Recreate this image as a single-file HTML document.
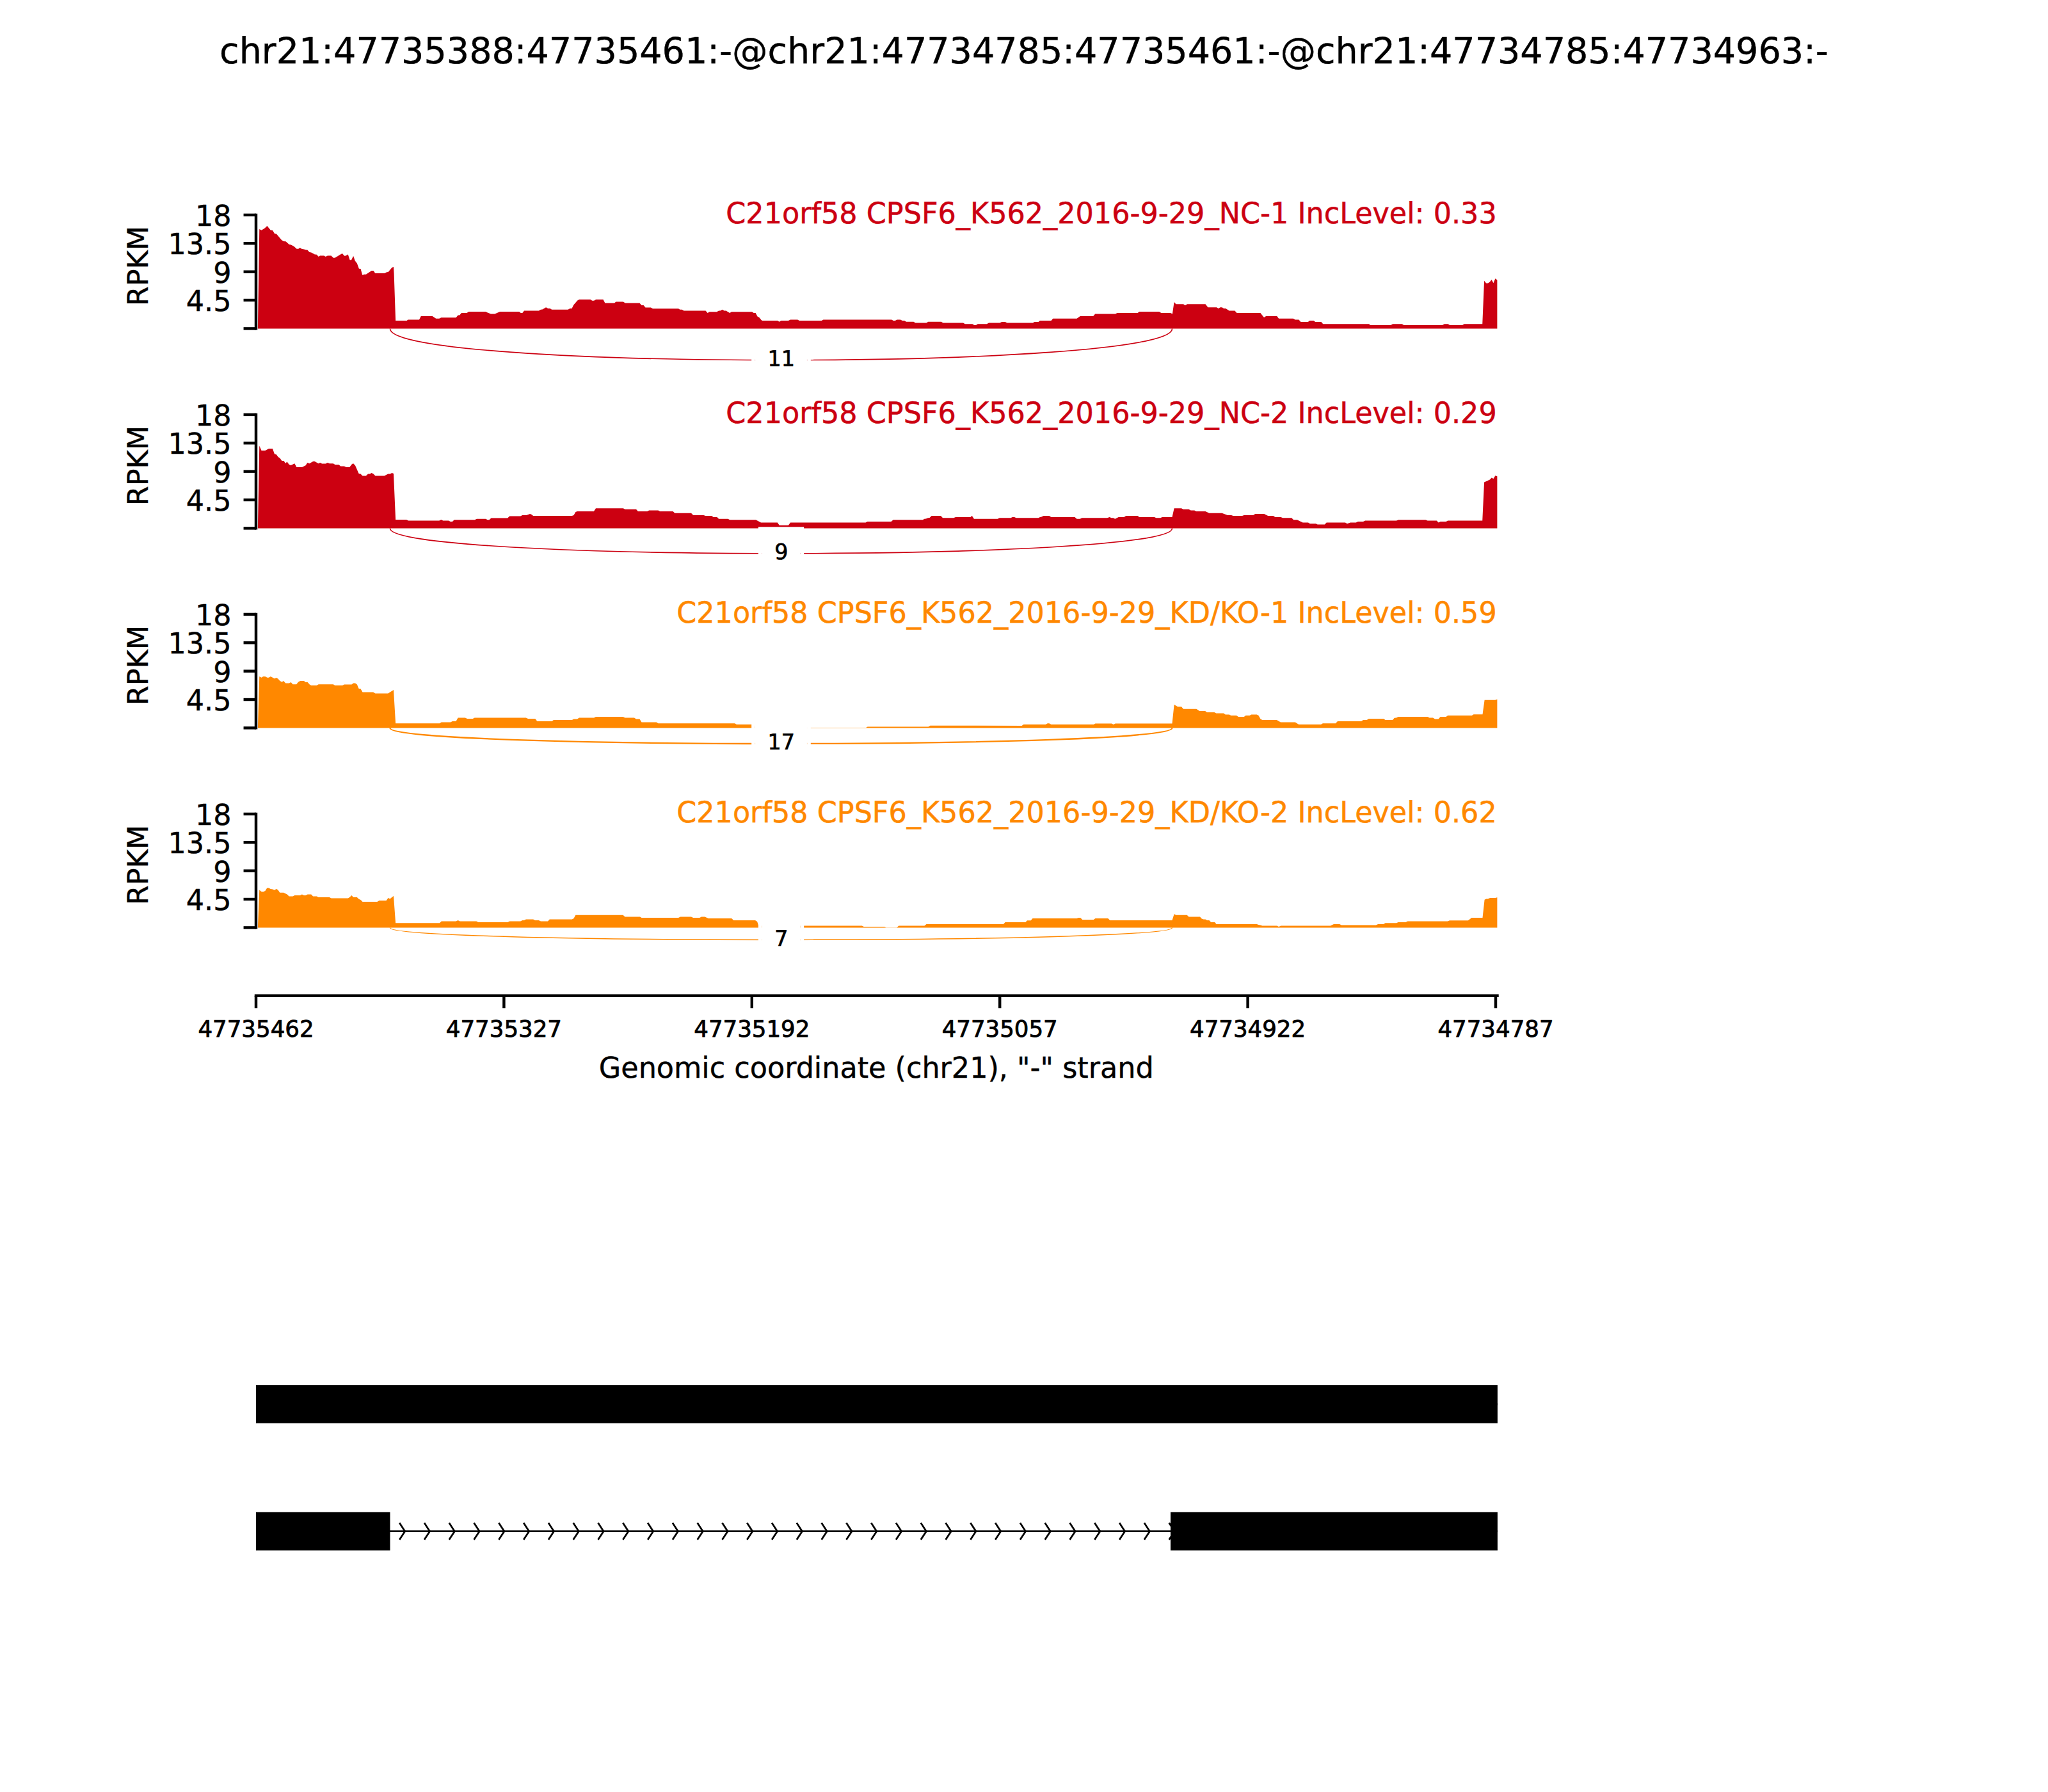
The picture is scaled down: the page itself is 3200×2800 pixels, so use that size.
<!DOCTYPE html>
<html lang="en"><head><meta charset="utf-8"><title>Sashimi plot</title>
<style>html,body{margin:0;padding:0;background:#fff}body{width:3200px;height:2800px;overflow:hidden}svg{display:block}text{font-family:"DejaVu Sans","Liberation Sans",sans-serif;fill:#000;text-rendering:geometricPrecision}</style>
</head><body>
<svg width="3200" height="2800" viewBox="0 0 3200 2800" role="img" aria-label="Sashimi plot">
<rect width="3200" height="2800" fill="#fff"/>
<text transform="translate(1600 99) scale(1 1.015)" font-size="55.56" text-anchor="middle" stroke="#000" stroke-width="0.4">chr21:47735388:47735461:-@chr21:47734785:47735461:-@chr21:47734785:47734963:-</text>
<g>
<path id="cov0" d="M402.88 513.50 L405.25 358.12 L408.50 359.75 L413.75 356.62 L417.38 352.88 L422.75 359.38 L426.00 360.00 L429.00 365.00 L431.88 365.38 L440.00 375.00 L443.12 376.88 L446.50 377.25 L451.88 382.12 L454.75 382.50 L459.38 385.00 L463.50 388.75 L466.25 388.75 L468.75 387.25 L471.25 388.75 L475.00 389.38 L478.12 390.62 L480.25 390.62 L483.50 394.00 L486.25 394.38 L491.88 397.50 L494.75 397.75 L497.75 400.88 L500.00 399.38 L506.25 399.38 L508.75 401.00 L511.88 399.38 L517.50 399.38 L520.62 402.75 L523.50 402.75 L532.50 397.25 L534.75 396.00 L538.12 399.75 L540.62 399.38 L543.75 397.50 L546.62 406.25 L549.00 406.25 L552.12 400.00 L554.75 407.50 L557.88 411.62 L560.88 419.75 L563.50 420.00 L566.25 429.75 L569.38 428.75 L571.88 428.75 L580.62 423.12 L583.50 423.12 L586.25 426.88 L600.62 426.88 L604.38 425.25 L606.62 425.00 L612.50 418.12 L615.00 416.88 L615.62 427.50 L618.12 501.00 L618.12 500.88 L635.62 500.88 L637.50 499.62 L655.00 499.62 L657.75 494.12 L675.62 494.12 L681.25 497.75 L686.25 497.75 L689.38 496.25 L712.50 496.25 L715.62 492.50 L718.12 492.50 L721.00 489.12 L729.38 489.12 L732.50 487.12 L758.75 487.12 L766.88 490.62 L773.12 490.62 L781.25 487.12 L811.25 487.12 L813.75 489.00 L816.25 489.00 L819.00 485.62 L841.88 485.62 L845.00 483.75 L847.50 483.50 L853.12 480.25 L856.25 482.12 L859.38 482.12 L862.25 483.75 L887.50 483.75 L890.62 482.12 L893.50 481.88 L896.25 476.62 L902.25 469.38 L905.00 468.12 L922.50 468.12 L925.25 469.75 L928.12 469.75 L931.25 468.12 L942.50 468.12 L945.38 473.38 L960.00 473.38 L962.50 471.62 L973.75 471.62 L976.88 473.38 L999.38 473.38 L1002.50 476.88 L1005.62 476.88 L1008.50 480.38 L1016.88 480.38 L1020.00 482.25 L1060.00 482.25 L1062.50 483.75 L1065.62 483.75 L1068.50 485.62 L1096.00 485.62 L1102.50 485.62 L1105.62 489.00 L1108.75 487.25 L1120.00 487.25 L1123.12 485.62 L1125.62 485.38 L1128.50 483.75 L1131.50 485.38 L1134.38 485.62 L1140.25 489.00 L1143.12 487.25 L1175.00 487.25 L1177.75 489.00 L1180.62 489.00 L1183.50 494.38 L1186.25 496.00 L1189.75 500.25 L1191.25 500.88 L1215.00 500.88 L1217.50 502.75 L1220.62 501.00 L1231.88 501.00 L1235.00 499.38 L1246.25 499.38 L1249.00 501.00 L1283.75 501.00 L1286.50 499.38 L1336.00 499.38 L1393.12 499.38 L1395.88 501.00 L1398.75 501.00 L1401.50 499.38 L1406.88 499.38 L1410.00 501.00 L1413.12 501.00 L1416.00 502.75 L1427.50 502.75 L1430.25 504.62 L1447.50 504.62 L1450.38 502.75 L1470.62 502.75 L1473.50 504.62 L1505.00 504.62 L1507.88 506.25 L1519.38 506.25 L1522.25 508.12 L1525.00 508.12 L1527.75 506.25 L1541.88 506.25 L1545.00 504.62 L1562.25 504.62 L1565.25 502.88 L1570.62 502.88 L1573.50 504.62 L1573.50 504.62 L1613.75 504.62 L1616.50 502.88 L1622.50 502.88 L1625.00 501.00 L1642.50 501.00 L1645.25 497.75 L1682.50 497.75 L1687.75 494.12 L1708.12 494.12 L1711.25 490.62 L1742.75 490.62 L1745.62 489.00 L1777.50 489.00 L1780.25 487.12 L1811.25 487.12 L1814.38 489.00 L1814.75 489.00 L1829.00 489.00 L1831.88 490.62 L1834.62 471.88 L1837.50 475.25 L1849.00 475.25 L1851.88 476.88 L1855.00 475.25 L1883.50 475.25 L1887.50 480.25 L1901.00 480.25 L1903.75 482.12 L1906.62 480.25 L1909.38 480.25 L1912.25 482.12 L1915.25 482.12 L1920.62 485.62 L1929.38 485.62 L1932.50 489.00 L1969.38 489.00 L1975.00 496.00 L1978.12 494.12 L1995.25 494.12 L1998.12 497.75 L2020.62 497.75 L2023.75 499.38 L2029.38 499.38 L2032.50 502.88 L2043.75 502.88 L2046.50 501.00 L2052.50 501.00 L2055.25 502.88 L2064.38 502.88 L2067.25 506.25 L2138.75 506.25 L2141.50 508.12 L2173.12 508.12 L2176.25 506.25 L2190.62 506.25 L2193.50 508.12 L2253.75 508.12 L2256.88 506.25 L2262.50 506.25 L2265.25 508.12 L2285.00 508.00 L2287.81 506.25 L2316.25 506.25 L2319.06 438.75 L2322.19 442.38 L2325.00 442.38 L2327.81 440.62 L2330.62 437.00 L2333.44 442.19 L2336.38 435.31 L2339.38 437.38 L2339.38 513.44 Z" fill="#CC0011"/>
<path id="arc0" d="M609.40 513.40 C609.40 579.13 1831.60 579.13 1831.60 513.40" fill="none" stroke="#CC0011" stroke-width="1.60"/>
<rect x="1174.20" y="521.20" width="92.60" height="83.00" fill="#fff"/>
<clipPath id="seam0"><rect x="1179.41" y="526.76" width="0.70" height="71.88"/><rect x="1260.89" y="526.76" width="0.70" height="71.88"/></clipPath>
<g clip-path="url(#seam0)" opacity="0.35"><use href="#cov0"/><use href="#arc0"/></g>
<text transform="translate(1220.80 572.00) scale(1 1.02)" font-size="33.33" text-anchor="middle" stroke="#000" stroke-width="0.7">11</text>
<path d="M400.00 335.90 V513.40" stroke="#000" stroke-width="4.44" stroke-linecap="square" fill="none"/>
<path d="M380.56 335.90 H400.00" stroke="#000" stroke-width="4.44" fill="none"/>
<text transform="translate(361.50 353.00) scale(1 1.02)" font-size="44.48" text-anchor="end" stroke="#000" stroke-width="0.4">18</text>
<path d="M380.56 380.27 H400.00" stroke="#000" stroke-width="4.44" fill="none"/>
<text transform="translate(361.50 397.00) scale(1 1.02)" font-size="44.48" text-anchor="end" stroke="#000" stroke-width="0.4">13.5</text>
<path d="M380.56 424.65 H400.00" stroke="#000" stroke-width="4.44" fill="none"/>
<text transform="translate(361.50 442.00) scale(1 1.02)" font-size="44.48" text-anchor="end" stroke="#000" stroke-width="0.4">9</text>
<path d="M380.56 469.02 H400.00" stroke="#000" stroke-width="4.44" fill="none"/>
<text transform="translate(361.50 486.00) scale(1 1.02)" font-size="44.48" text-anchor="end" stroke="#000" stroke-width="0.4">4.5</text>
<path d="M380.56 513.40 H400.00" stroke="#000" stroke-width="4.44" fill="none"/>
<text transform="translate(230.80 415.55) rotate(-90)" font-size="44.44" text-anchor="middle" stroke="#000" stroke-width="0.4">RPKM</text>
<text transform="translate(2338.70 349.00) scale(1 1.03)" font-size="44.48" text-anchor="end" style="fill:#CC0011;stroke:#CC0011;stroke-width:0.5px">C21orf58 CPSF6_K562_2016-9-29_NC-1 IncLevel: 0.33</text>
</g>
<g>
<path id="cov1" d="M402.88 825.50 L405.25 696.38 L408.50 703.88 L414.38 703.88 L420.00 701.12 L425.88 701.12 L429.00 709.50 L431.62 709.88 L434.62 713.88 L437.50 716.00 L440.38 719.88 L443.50 720.12 L446.00 723.88 L448.50 721.38 L451.62 725.75 L454.38 727.00 L460.38 724.25 L463.38 730.12 L471.88 730.12 L477.50 727.25 L480.38 722.88 L483.38 724.25 L489.12 721.12 L491.88 721.12 L497.50 724.25 L500.25 723.00 L503.12 724.50 L508.75 724.50 L511.88 723.00 L515.00 724.25 L520.62 724.25 L523.50 726.00 L529.38 726.00 L532.25 728.50 L537.88 728.50 L541.00 730.12 L546.25 730.12 L549.38 725.75 L551.88 724.12 L555.00 727.25 L560.62 740.12 L563.50 740.38 L566.50 743.50 L571.88 743.50 L575.00 740.50 L577.88 740.38 L580.62 738.88 L583.50 740.38 L586.50 743.50 L600.62 743.50 L606.25 740.50 L609.38 740.38 L612.50 738.88 L615.00 740.12 L618.12 811.75 L618.12 812.00 L635.00 812.00 L638.12 813.50 L686.25 813.50 L689.38 812.00 L692.25 813.50 L701.00 813.50 L703.75 815.12 L706.88 815.12 L709.75 812.25 L741.88 812.25 L745.00 810.75 L758.75 810.75 L761.88 812.25 L764.38 812.25 L767.50 809.50 L793.12 809.50 L796.25 806.38 L813.12 806.38 L816.25 804.88 L822.50 804.88 L828.12 803.00 L830.62 803.88 L833.12 806.12 L856.00 806.12 L893.75 806.12 L896.50 804.88 L899.38 800.12 L901.88 798.88 L927.88 798.88 L931.00 794.25 L973.75 794.25 L976.50 795.75 L994.00 795.75 L996.88 798.88 L1011.25 798.88 L1014.12 797.38 L1028.50 797.38 L1031.25 798.88 L1051.50 798.88 L1054.38 801.75 L1080.00 801.75 L1083.12 804.88 L1099.38 804.88 L1102.50 806.12 L1111.88 806.12 L1114.75 808.00 L1120.38 808.00 L1123.12 810.75 L1137.50 810.75 L1140.25 812.25 L1181.00 812.25 L1189.00 816.62 L1214.75 816.62 L1217.75 820.75 L1231.88 820.75 L1235.00 816.62 L1336.00 816.62 L1352.50 816.62 L1355.38 815.12 L1392.50 815.12 L1395.62 812.25 L1441.88 812.25 L1444.38 810.75 L1446.88 810.50 L1450.00 809.25 L1452.50 809.00 L1455.62 806.12 L1470.00 806.12 L1473.12 809.25 L1490.00 809.25 L1493.12 807.88 L1516.25 807.88 L1518.75 806.12 L1521.88 810.75 L1558.75 810.75 L1561.88 809.25 L1576.00 809.25 L1579.38 809.25 L1581.88 807.88 L1585.00 807.88 L1587.75 809.25 L1622.50 809.25 L1625.00 807.88 L1627.50 807.62 L1630.62 806.12 L1639.38 806.12 L1642.50 807.88 L1679.38 807.88 L1682.50 810.75 L1687.50 810.75 L1690.62 809.25 L1730.00 809.25 L1733.75 807.88 L1736.50 809.25 L1739.38 809.25 L1742.25 810.75 L1747.75 807.88 L1756.25 807.88 L1759.38 806.12 L1777.50 806.12 L1780.25 807.88 L1803.75 807.88 L1806.50 809.25 L1813.12 809.25 L1816.00 807.88 L1817.50 807.88 L1831.50 807.88 L1834.62 794.25 L1846.00 794.25 L1848.75 795.75 L1857.50 795.75 L1860.62 797.38 L1866.25 797.38 L1869.12 798.88 L1883.50 798.88 L1889.38 801.75 L1909.38 801.75 L1918.12 804.88 L1924.00 804.88 L1926.88 806.12 L1941.00 806.12 L1943.75 804.88 L1958.12 804.88 L1961.25 803.00 L1975.25 803.00 L1981.25 806.12 L1989.38 806.12 L1992.50 807.88 L2001.25 807.88 L2004.38 809.25 L2018.12 809.25 L2021.25 812.25 L2026.88 812.25 L2035.62 816.62 L2044.00 816.62 L2046.88 818.25 L2056.00 818.25 L2058.75 819.50 L2069.75 819.50 L2072.75 816.62 L2101.88 816.62 L2105.00 818.25 L2110.00 816.62 L2118.75 816.62 L2121.88 815.12 L2130.00 815.12 L2133.12 813.50 L2181.88 813.50 L2185.00 812.25 L2227.50 812.25 L2230.62 813.50 L2244.75 813.50 L2247.75 816.38 L2250.62 815.12 L2259.38 815.12 L2260.00 814.81 L2262.19 813.44 L2316.25 813.44 L2319.06 753.56 L2327.81 749.50 L2330.62 746.38 L2333.44 748.12 L2336.38 743.25 L2339.38 744.19 L2339.38 825.44 Z" fill="#CC0011"/>
<path id="arc1" d="M609.40 825.40 C609.40 877.93 1831.60 877.93 1831.60 825.40" fill="none" stroke="#CC0011" stroke-width="1.60"/>
<rect x="1184.85" y="823.30" width="71.30" height="83.00" fill="#fff"/>
<clipPath id="seam1"><rect x="1190.06" y="828.86" width="0.70" height="71.88"/><rect x="1250.24" y="828.86" width="0.70" height="71.88"/></clipPath>
<g clip-path="url(#seam1)" opacity="0.35"><use href="#cov1"/><use href="#arc1"/></g>
<text transform="translate(1220.80 874.00) scale(1 1.02)" font-size="33.33" text-anchor="middle" stroke="#000" stroke-width="0.7">9</text>
<path d="M400.00 647.90 V825.40" stroke="#000" stroke-width="4.44" stroke-linecap="square" fill="none"/>
<path d="M380.56 647.90 H400.00" stroke="#000" stroke-width="4.44" fill="none"/>
<text transform="translate(361.50 665.00) scale(1 1.02)" font-size="44.48" text-anchor="end" stroke="#000" stroke-width="0.4">18</text>
<path d="M380.56 692.27 H400.00" stroke="#000" stroke-width="4.44" fill="none"/>
<text transform="translate(361.50 709.00) scale(1 1.02)" font-size="44.48" text-anchor="end" stroke="#000" stroke-width="0.4">13.5</text>
<path d="M380.56 736.65 H400.00" stroke="#000" stroke-width="4.44" fill="none"/>
<text transform="translate(361.50 754.00) scale(1 1.02)" font-size="44.48" text-anchor="end" stroke="#000" stroke-width="0.4">9</text>
<path d="M380.56 781.02 H400.00" stroke="#000" stroke-width="4.44" fill="none"/>
<text transform="translate(361.50 798.00) scale(1 1.02)" font-size="44.48" text-anchor="end" stroke="#000" stroke-width="0.4">4.5</text>
<path d="M380.56 825.40 H400.00" stroke="#000" stroke-width="4.44" fill="none"/>
<text transform="translate(230.80 727.55) rotate(-90)" font-size="44.44" text-anchor="middle" stroke="#000" stroke-width="0.4">RPKM</text>
<text transform="translate(2338.70 661.00) scale(1 1.03)" font-size="44.48" text-anchor="end" style="fill:#CC0011;stroke:#CC0011;stroke-width:0.5px">C21orf58 CPSF6_K562_2016-9-29_NC-2 IncLevel: 0.29</text>
</g>
<g>
<path id="cov2" d="M402.88 1137.38 L405.25 1057.12 L408.50 1058.75 L411.25 1057.12 L414.38 1057.12 L417.50 1058.75 L420.00 1058.75 L422.88 1057.12 L425.62 1058.38 L428.75 1060.25 L431.88 1059.00 L434.38 1060.50 L437.50 1064.00 L440.38 1065.50 L443.12 1064.00 L446.25 1067.50 L451.88 1067.50 L454.62 1065.88 L457.50 1069.25 L463.12 1069.25 L466.25 1065.50 L469.00 1064.00 L475.00 1064.00 L477.50 1065.88 L480.62 1066.12 L483.75 1069.62 L486.25 1071.12 L494.75 1071.12 L497.75 1069.25 L520.62 1069.25 L523.50 1071.12 L535.00 1071.12 L537.88 1069.38 L549.38 1069.38 L552.12 1067.50 L555.00 1067.50 L557.88 1069.38 L560.62 1075.88 L563.50 1076.25 L566.50 1081.50 L583.12 1081.50 L586.50 1083.38 L606.25 1083.38 L615.00 1078.00 L618.12 1130.25 L618.12 1130.25 L686.88 1130.25 L689.75 1128.62 L704.00 1128.62 L706.88 1127.12 L712.50 1127.12 L715.62 1121.50 L726.88 1121.50 L730.00 1123.12 L738.75 1123.12 L741.62 1121.50 L821.88 1121.50 L825.00 1123.12 L836.25 1123.12 L839.38 1127.12 L856.00 1127.12 L862.25 1127.12 L865.00 1125.00 L893.75 1125.00 L896.50 1123.38 L901.88 1123.38 L905.00 1121.50 L928.12 1121.50 L931.00 1119.88 L973.50 1119.88 L976.50 1121.50 L991.00 1121.50 L994.00 1123.38 L999.38 1123.38 L1002.50 1128.38 L1025.62 1128.38 L1028.50 1130.25 L1096.00 1130.25 L1148.12 1130.25 L1151.00 1132.12 L1174.38 1132.12 L1178.75 1132.12 L1180.00 1137.00 L1266.25 1137.00 L1266.88 1137.12 L1353.12 1137.12 L1355.62 1135.50 L1450.62 1135.50 L1453.50 1133.75 L1496.00 1133.75 L1596.50 1134.00 L1599.38 1132.12 L1633.75 1132.12 L1636.88 1130.25 L1639.38 1130.25 L1642.50 1132.12 L1708.75 1132.12 L1711.50 1130.50 L1736.00 1130.50 L1736.88 1130.50 L1739.75 1132.12 L1742.75 1130.50 L1831.50 1130.50 L1834.62 1100.88 L1840.25 1104.25 L1846.00 1104.25 L1849.00 1107.75 L1869.38 1107.75 L1874.38 1111.12 L1883.12 1111.12 L1886.00 1113.00 L1897.50 1113.00 L1900.38 1114.62 L1911.88 1114.62 L1914.75 1116.50 L1920.62 1116.50 L1923.50 1118.12 L1931.88 1118.12 L1935.00 1119.88 L1943.75 1119.88 L1946.50 1118.12 L1952.50 1118.12 L1955.25 1116.50 L1963.75 1116.50 L1966.50 1118.12 L1969.62 1123.38 L1972.50 1125.00 L1995.00 1125.00 L2001.00 1128.38 L2023.75 1128.38 L2029.38 1132.12 L2064.00 1132.12 L2066.88 1130.25 L2086.88 1130.25 L2090.00 1126.88 L2126.88 1126.88 L2130.00 1125.00 L2135.62 1125.00 L2138.75 1123.12 L2161.88 1123.12 L2164.75 1125.00 L2176.00 1125.00 L2178.75 1121.75 L2181.88 1121.50 L2184.75 1119.88 L2216.00 1119.88 L2230.62 1119.88 L2233.50 1121.50 L2239.00 1121.50 L2242.12 1123.38 L2247.50 1123.38 L2250.62 1119.88 L2259.38 1119.88 L2262.25 1118.12 L2299.75 1118.12 L2302.50 1116.25 L2316.50 1116.25 L2319.62 1093.75 L2336.25 1093.75 L2339.38 1092.75 L2339.38 1137.38 Z" fill="#FF8800"/>
<path id="arc2" d="M609.40 1137.40 C609.40 1170.20 1831.60 1170.20 1831.60 1137.40" fill="none" stroke="#FF8800" stroke-width="2.30"/>
<rect x="1174.20" y="1120.50" width="92.60" height="83.00" fill="#fff"/>
<clipPath id="seam2"><rect x="1179.41" y="1126.06" width="0.70" height="71.88"/><rect x="1260.89" y="1126.06" width="0.70" height="71.88"/></clipPath>
<g clip-path="url(#seam2)" opacity="0.35"><use href="#cov2"/><use href="#arc2"/></g>
<text transform="translate(1220.80 1171.00) scale(1 1.02)" font-size="33.33" text-anchor="middle" stroke="#000" stroke-width="0.7">17</text>
<path d="M400.00 959.90 V1137.40" stroke="#000" stroke-width="4.44" stroke-linecap="square" fill="none"/>
<path d="M380.56 959.90 H400.00" stroke="#000" stroke-width="4.44" fill="none"/>
<text transform="translate(361.50 977.00) scale(1 1.02)" font-size="44.48" text-anchor="end" stroke="#000" stroke-width="0.4">18</text>
<path d="M380.56 1004.28 H400.00" stroke="#000" stroke-width="4.44" fill="none"/>
<text transform="translate(361.50 1021.00) scale(1 1.02)" font-size="44.48" text-anchor="end" stroke="#000" stroke-width="0.4">13.5</text>
<path d="M380.56 1048.65 H400.00" stroke="#000" stroke-width="4.44" fill="none"/>
<text transform="translate(361.50 1066.00) scale(1 1.02)" font-size="44.48" text-anchor="end" stroke="#000" stroke-width="0.4">9</text>
<path d="M380.56 1093.03 H400.00" stroke="#000" stroke-width="4.44" fill="none"/>
<text transform="translate(361.50 1110.00) scale(1 1.02)" font-size="44.48" text-anchor="end" stroke="#000" stroke-width="0.4">4.5</text>
<path d="M380.56 1137.40 H400.00" stroke="#000" stroke-width="4.44" fill="none"/>
<text transform="translate(230.80 1039.55) rotate(-90)" font-size="44.44" text-anchor="middle" stroke="#000" stroke-width="0.4">RPKM</text>
<text transform="translate(2338.70 973.00) scale(1 1.03)" font-size="44.48" text-anchor="end" style="fill:#FF8800;stroke:#FF8800;stroke-width:0.5px">C21orf58 CPSF6_K562_2016-9-29_KD/KO-1 IncLevel: 0.59</text>
</g>
<g>
<path id="cov3" d="M402.88 1449.38 L405.25 1390.38 L408.50 1393.25 L411.25 1393.50 L414.38 1391.88 L417.25 1387.62 L420.00 1387.62 L422.88 1389.12 L426.00 1389.50 L428.75 1390.75 L431.88 1389.12 L434.38 1390.38 L437.25 1394.75 L443.12 1394.75 L448.75 1397.50 L451.62 1400.38 L457.50 1400.38 L460.38 1399.12 L469.00 1399.12 L471.88 1397.50 L475.00 1399.12 L477.50 1399.12 L480.62 1397.50 L486.25 1397.50 L489.12 1400.38 L494.75 1400.38 L497.75 1401.88 L514.75 1401.88 L517.75 1403.50 L543.75 1403.50 L546.25 1401.88 L549.38 1398.88 L552.12 1401.88 L557.88 1401.88 L560.62 1404.75 L563.50 1406.00 L566.50 1408.88 L589.38 1408.88 L592.25 1407.25 L603.50 1407.25 L606.50 1403.12 L609.38 1404.50 L612.25 1401.88 L615.00 1400.12 L618.12 1442.25 L618.12 1442.25 L686.88 1442.25 L689.75 1439.50 L712.50 1439.50 L715.62 1438.12 L718.50 1439.50 L744.38 1439.50 L747.50 1441.00 L793.12 1441.00 L796.25 1439.50 L813.12 1439.50 L816.25 1438.12 L818.75 1437.88 L821.88 1436.62 L833.12 1436.62 L836.25 1438.12 L841.88 1438.12 L845.00 1439.50 L856.00 1439.50 L858.75 1436.62 L893.75 1436.62 L896.50 1435.12 L899.38 1429.75 L973.50 1429.75 L976.50 1432.50 L1000.00 1432.50 L1002.50 1433.88 L1060.00 1433.88 L1063.12 1432.50 L1080.00 1432.50 L1083.12 1433.88 L1093.12 1433.88 L1096.00 1432.50 L1096.00 1432.50 L1101.25 1432.50 L1106.88 1435.12 L1143.12 1435.12 L1146.25 1438.12 L1180.00 1438.12 L1183.12 1440.00 L1184.75 1444.75 L1186.25 1446.62 L1256.25 1446.62 L1256.25 1446.62 L1346.88 1446.62 L1349.75 1448.12 L1381.88 1448.12 L1384.38 1449.25 L1401.25 1449.25 L1404.38 1446.62 L1444.38 1446.62 L1447.50 1443.88 L1496.00 1443.88 L1567.88 1443.88 L1570.62 1441.00 L1602.25 1441.00 L1605.00 1438.25 L1610.62 1438.25 L1613.50 1435.12 L1682.50 1435.12 L1685.00 1433.88 L1688.12 1433.88 L1691.25 1436.88 L1708.75 1436.88 L1711.50 1435.12 L1731.25 1435.12 L1734.38 1438.12 L1736.00 1438.12 L1831.50 1438.12 L1834.62 1428.25 L1837.50 1429.75 L1854.75 1429.75 L1857.50 1432.50 L1875.00 1432.50 L1877.75 1435.38 L1880.62 1436.62 L1883.50 1436.62 L1886.25 1438.12 L1889.38 1438.12 L1892.25 1441.00 L1898.12 1441.00 L1900.62 1443.88 L1963.75 1443.88 L1966.50 1445.12 L1969.38 1445.38 L1972.50 1446.62 L1976.00 1446.62 L1995.25 1446.62 L1998.12 1448.12 L2001.25 1446.62 L2078.75 1446.62 L2084.00 1443.88 L2093.12 1443.88 L2096.00 1445.38 L2150.00 1445.38 L2153.12 1443.88 L2161.50 1443.88 L2164.62 1442.25 L2181.88 1442.25 L2184.75 1441.00 L2196.25 1441.00 L2199.38 1439.50 L2216.00 1439.50 L2261.88 1439.50 L2265.00 1438.25 L2293.75 1438.25 L2296.25 1436.62 L2299.38 1433.88 L2316.50 1433.88 L2319.62 1405.75 L2322.50 1404.50 L2325.00 1404.50 L2328.12 1403.12 L2336.25 1403.12 L2339.38 1402.25 L2339.38 1449.38 Z" fill="#FF8800"/>
<path id="arc3" d="M609.40 1449.40 C609.40 1474.73 1831.60 1474.73 1831.60 1449.40" fill="none" stroke="#FF8800" stroke-width="1.50"/>
<rect x="1184.85" y="1426.90" width="71.30" height="83.00" fill="#fff"/>
<clipPath id="seam3"><rect x="1190.06" y="1432.46" width="0.70" height="71.88"/><rect x="1250.24" y="1432.46" width="0.70" height="71.88"/></clipPath>
<g clip-path="url(#seam3)" opacity="0.35"><use href="#cov3"/><use href="#arc3"/></g>
<text transform="translate(1220.80 1478.00) scale(1 1.02)" font-size="33.33" text-anchor="middle" stroke="#000" stroke-width="0.7">7</text>
<path d="M400.00 1271.90 V1449.40" stroke="#000" stroke-width="4.44" stroke-linecap="square" fill="none"/>
<path d="M380.56 1271.90 H400.00" stroke="#000" stroke-width="4.44" fill="none"/>
<text transform="translate(361.50 1289.00) scale(1 1.02)" font-size="44.48" text-anchor="end" stroke="#000" stroke-width="0.4">18</text>
<path d="M380.56 1316.28 H400.00" stroke="#000" stroke-width="4.44" fill="none"/>
<text transform="translate(361.50 1333.00) scale(1 1.02)" font-size="44.48" text-anchor="end" stroke="#000" stroke-width="0.4">13.5</text>
<path d="M380.56 1360.65 H400.00" stroke="#000" stroke-width="4.44" fill="none"/>
<text transform="translate(361.50 1378.00) scale(1 1.02)" font-size="44.48" text-anchor="end" stroke="#000" stroke-width="0.4">9</text>
<path d="M380.56 1405.03 H400.00" stroke="#000" stroke-width="4.44" fill="none"/>
<text transform="translate(361.50 1422.00) scale(1 1.02)" font-size="44.48" text-anchor="end" stroke="#000" stroke-width="0.4">4.5</text>
<path d="M380.56 1449.40 H400.00" stroke="#000" stroke-width="4.44" fill="none"/>
<text transform="translate(230.80 1351.55) rotate(-90)" font-size="44.44" text-anchor="middle" stroke="#000" stroke-width="0.4">RPKM</text>
<text transform="translate(2338.70 1285.00) scale(1 1.03)" font-size="44.48" text-anchor="end" style="fill:#FF8800;stroke:#FF8800;stroke-width:0.5px">C21orf58 CPSF6_K562_2016-9-29_KD/KO-2 IncLevel: 0.62</text>
</g>
<g>
<path d="M400.00 1555.80 H2339.50" stroke="#000" stroke-width="4.44" stroke-linecap="square" fill="none"/>
<path d="M400.00 1555.80 V1575.24" stroke="#000" stroke-width="4.44" fill="none"/>
<text x="400.00" y="1620.00" font-size="35.60" text-anchor="middle" stroke="#000" stroke-width="0.8">47735462</text>
<path d="M787.40 1555.80 V1575.24" stroke="#000" stroke-width="4.44" fill="none"/>
<text x="787.40" y="1620.00" font-size="35.60" text-anchor="middle" stroke="#000" stroke-width="0.8">47735327</text>
<path d="M1174.80 1555.80 V1575.24" stroke="#000" stroke-width="4.44" fill="none"/>
<text x="1174.80" y="1620.00" font-size="35.60" text-anchor="middle" stroke="#000" stroke-width="0.8">47735192</text>
<path d="M1562.20 1555.80 V1575.24" stroke="#000" stroke-width="4.44" fill="none"/>
<text x="1562.20" y="1620.00" font-size="35.60" text-anchor="middle" stroke="#000" stroke-width="0.8">47735057</text>
<path d="M1949.60 1555.80 V1575.24" stroke="#000" stroke-width="4.44" fill="none"/>
<text x="1949.60" y="1620.00" font-size="35.60" text-anchor="middle" stroke="#000" stroke-width="0.8">47734922</text>
<path d="M2337.00 1555.80 V1575.24" stroke="#000" stroke-width="4.44" fill="none"/>
<text x="2337.00" y="1620.00" font-size="35.60" text-anchor="middle" stroke="#000" stroke-width="0.8">47734787</text>
<text transform="translate(1369.25 1684.00) scale(1 1.02)" font-size="44.48" text-anchor="middle" stroke="#000" stroke-width="0.4">Genomic coordinate (chr21), &quot;-&quot; strand</text>
</g>
<defs><clipPath id="gclip"><rect x="400" y="1896" width="1940.2" height="596"/></clipPath></defs>
<g clip-path="url(#gclip)">
<path d="M400.00 2194.00 H2340.10" stroke="#000" stroke-width="2.78" fill="none"/>
<path d="M392.24 2182.10 L400.00 2194.00 L392.24 2205.90 M431.03 2182.10 L438.79 2194.00 L431.03 2205.90 M469.82 2182.10 L477.58 2194.00 L469.82 2205.90 M508.61 2182.10 L516.37 2194.00 L508.61 2205.90 M547.40 2182.10 L555.16 2194.00 L547.40 2205.90 M586.19 2182.10 L593.95 2194.00 L586.19 2205.90 M624.98 2182.10 L632.74 2194.00 L624.98 2205.90 M663.77 2182.10 L671.53 2194.00 L663.77 2205.90 M702.56 2182.10 L710.32 2194.00 L702.56 2205.90 M741.35 2182.10 L749.11 2194.00 L741.35 2205.90 M780.14 2182.10 L787.90 2194.00 L780.14 2205.90 M818.93 2182.10 L826.69 2194.00 L818.93 2205.90 M857.72 2182.10 L865.48 2194.00 L857.72 2205.90 M896.51 2182.10 L904.27 2194.00 L896.51 2205.90 M935.30 2182.10 L943.06 2194.00 L935.30 2205.90 M974.09 2182.10 L981.85 2194.00 L974.09 2205.90 M1012.88 2182.10 L1020.64 2194.00 L1012.88 2205.90 M1051.67 2182.10 L1059.43 2194.00 L1051.67 2205.90 M1090.46 2182.10 L1098.22 2194.00 L1090.46 2205.90 M1129.25 2182.10 L1137.01 2194.00 L1129.25 2205.90 M1168.04 2182.10 L1175.80 2194.00 L1168.04 2205.90 M1206.83 2182.10 L1214.59 2194.00 L1206.83 2205.90 M1245.62 2182.10 L1253.38 2194.00 L1245.62 2205.90 M1284.41 2182.10 L1292.17 2194.00 L1284.41 2205.90 M1323.20 2182.10 L1330.96 2194.00 L1323.20 2205.90 M1361.99 2182.10 L1369.75 2194.00 L1361.99 2205.90 M1400.78 2182.10 L1408.54 2194.00 L1400.78 2205.90 M1439.57 2182.10 L1447.33 2194.00 L1439.57 2205.90 M1478.36 2182.10 L1486.12 2194.00 L1478.36 2205.90 M1517.15 2182.10 L1524.91 2194.00 L1517.15 2205.90 M1555.94 2182.10 L1563.70 2194.00 L1555.94 2205.90 M1594.73 2182.10 L1602.49 2194.00 L1594.73 2205.90 M1633.52 2182.10 L1641.28 2194.00 L1633.52 2205.90 M1672.31 2182.10 L1680.07 2194.00 L1672.31 2205.90 M1711.10 2182.10 L1718.86 2194.00 L1711.10 2205.90 M1749.89 2182.10 L1757.65 2194.00 L1749.89 2205.90 M1788.68 2182.10 L1796.44 2194.00 L1788.68 2205.90 M1827.47 2182.10 L1835.23 2194.00 L1827.47 2205.90 M1866.26 2182.10 L1874.02 2194.00 L1866.26 2205.90 M1905.05 2182.10 L1912.81 2194.00 L1905.05 2205.90 M1943.84 2182.10 L1951.60 2194.00 L1943.84 2205.90 M1982.63 2182.10 L1990.39 2194.00 L1982.63 2205.90 M2021.42 2182.10 L2029.18 2194.00 L2021.42 2205.90 M2060.21 2182.10 L2067.97 2194.00 L2060.21 2205.90 M2099.00 2182.10 L2106.76 2194.00 L2099.00 2205.90 M2137.79 2182.10 L2145.55 2194.00 L2137.79 2205.90 M2176.58 2182.10 L2184.34 2194.00 L2176.58 2205.90 M2215.37 2182.10 L2223.13 2194.00 L2215.37 2205.90 M2254.16 2182.10 L2261.92 2194.00 L2254.16 2205.90 M2292.95 2182.10 L2300.71 2194.00 L2292.95 2205.90" stroke="#000" stroke-width="2.78" stroke-linecap="square" stroke-linejoin="miter" fill="none"/>
<rect x="400.00" y="2164.15" width="1939.90" height="59.70" fill="#000"/>
<path d="M400.00 2392.65 H2340.10" stroke="#000" stroke-width="2.78" fill="none"/>
<path d="M392.24 2380.75 L400.00 2392.65 L392.24 2404.55 M431.03 2380.75 L438.79 2392.65 L431.03 2404.55 M469.82 2380.75 L477.58 2392.65 L469.82 2404.55 M508.61 2380.75 L516.37 2392.65 L508.61 2404.55 M547.40 2380.75 L555.16 2392.65 L547.40 2404.55 M586.19 2380.75 L593.95 2392.65 L586.19 2404.55 M624.98 2380.75 L632.74 2392.65 L624.98 2404.55 M663.77 2380.75 L671.53 2392.65 L663.77 2404.55 M702.56 2380.75 L710.32 2392.65 L702.56 2404.55 M741.35 2380.75 L749.11 2392.65 L741.35 2404.55 M780.14 2380.75 L787.90 2392.65 L780.14 2404.55 M818.93 2380.75 L826.69 2392.65 L818.93 2404.55 M857.72 2380.75 L865.48 2392.65 L857.72 2404.55 M896.51 2380.75 L904.27 2392.65 L896.51 2404.55 M935.30 2380.75 L943.06 2392.65 L935.30 2404.55 M974.09 2380.75 L981.85 2392.65 L974.09 2404.55 M1012.88 2380.75 L1020.64 2392.65 L1012.88 2404.55 M1051.67 2380.75 L1059.43 2392.65 L1051.67 2404.55 M1090.46 2380.75 L1098.22 2392.65 L1090.46 2404.55 M1129.25 2380.75 L1137.01 2392.65 L1129.25 2404.55 M1168.04 2380.75 L1175.80 2392.65 L1168.04 2404.55 M1206.83 2380.75 L1214.59 2392.65 L1206.83 2404.55 M1245.62 2380.75 L1253.38 2392.65 L1245.62 2404.55 M1284.41 2380.75 L1292.17 2392.65 L1284.41 2404.55 M1323.20 2380.75 L1330.96 2392.65 L1323.20 2404.55 M1361.99 2380.75 L1369.75 2392.65 L1361.99 2404.55 M1400.78 2380.75 L1408.54 2392.65 L1400.78 2404.55 M1439.57 2380.75 L1447.33 2392.65 L1439.57 2404.55 M1478.36 2380.75 L1486.12 2392.65 L1478.36 2404.55 M1517.15 2380.75 L1524.91 2392.65 L1517.15 2404.55 M1555.94 2380.75 L1563.70 2392.65 L1555.94 2404.55 M1594.73 2380.75 L1602.49 2392.65 L1594.73 2404.55 M1633.52 2380.75 L1641.28 2392.65 L1633.52 2404.55 M1672.31 2380.75 L1680.07 2392.65 L1672.31 2404.55 M1711.10 2380.75 L1718.86 2392.65 L1711.10 2404.55 M1749.89 2380.75 L1757.65 2392.65 L1749.89 2404.55 M1788.68 2380.75 L1796.44 2392.65 L1788.68 2404.55 M1827.47 2380.75 L1835.23 2392.65 L1827.47 2404.55 M1866.26 2380.75 L1874.02 2392.65 L1866.26 2404.55 M1905.05 2380.75 L1912.81 2392.65 L1905.05 2404.55 M1943.84 2380.75 L1951.60 2392.65 L1943.84 2404.55 M1982.63 2380.75 L1990.39 2392.65 L1982.63 2404.55 M2021.42 2380.75 L2029.18 2392.65 L2021.42 2404.55 M2060.21 2380.75 L2067.97 2392.65 L2060.21 2404.55 M2099.00 2380.75 L2106.76 2392.65 L2099.00 2404.55 M2137.79 2380.75 L2145.55 2392.65 L2137.79 2404.55 M2176.58 2380.75 L2184.34 2392.65 L2176.58 2404.55 M2215.37 2380.75 L2223.13 2392.65 L2215.37 2404.55 M2254.16 2380.75 L2261.92 2392.65 L2254.16 2404.55 M2292.95 2380.75 L2300.71 2392.65 L2292.95 2404.55" stroke="#000" stroke-width="2.78" stroke-linecap="square" stroke-linejoin="miter" fill="none"/>
<rect x="400.00" y="2362.80" width="209.50" height="59.70" fill="#000"/>
<rect x="1829.00" y="2362.80" width="510.90" height="59.70" fill="#000"/>
</g>
</svg>
</body></html>
